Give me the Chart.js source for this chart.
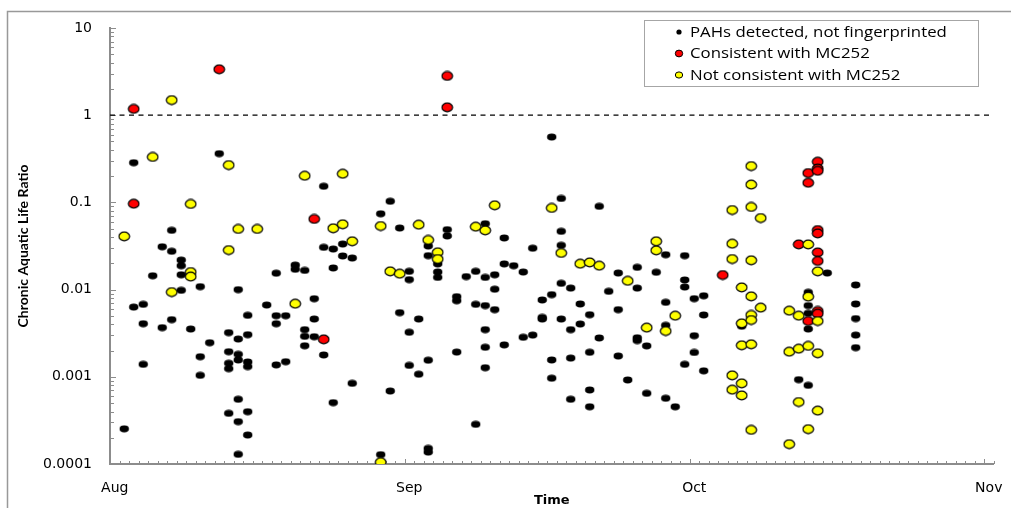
<!DOCTYPE html>
<html>
<head>
<meta charset="utf-8">
<script src="https://cdn.jsdelivr.net/npm/chart.js@4"></script>
<style>
  html, body { margin: 0; padding: 0; background: #fff; }
  #c { display: block; }
</style>
</head>
<body>
<canvas id="c" width="1011" height="508"></canvas>
<script>
// Axis categories and labels
const monthLabels = ['Aug', 'Sep', 'Oct', 'Nov'];
const monthStartDays = [0, 31, 61, 92];          // days after Aug 1
const yTickValues = [0.0001, 0.001, 0.01, 0.1, 1, 10];
const yTickLabels = ['0.0001', '0.001', '0.01', '0.1', '1', '10'];
const seriesNames = ['PAHs detected, not fingerprinted', 'Consistent with MC252', 'Not consistent with MC252'];
const thresholdRatio = 1;

// [days after Aug 1, chronic aquatic life ratio]
const pahSamples = [
  [1, 0.000253],
  [2, 0.285], [2, 0.0063],
  [3, 0.00678], [3, 0.00406], [3, 0.00139],
  [4, 0.0144],
  [5, 0.031], [5, 0.00366],
  [6, 0.0478], [6, 0.0275], [6, 0.00452],
  [7, 0.0218], [7, 0.0188], [7, 0.0148], [7, 0.0098],
  [8, 0.00353],
  [9, 0.0108], [9, 0.0017], [9, 0.00104],
  [10, 0.00246],
  [11, 0.362],
  [12, 0.00321], [12, 0.00194], [12, 0.00143], [12, 0.00124], [12, 0.000381],
  [13, 0.00998], [13, 0.00271], [13, 0.00181], [13, 0.00156], [13, 0.000552], [13, 0.000306], [13, 0.000129],
  [14, 0.00507], [14, 0.00304], [14, 0.00148], [14, 0.00131], [14, 0.000398], [14, 0.000215],
  [16, 0.00665],
  [17, 0.0154], [17, 0.00502], [17, 0.00406], [17, 0.00137],
  [18, 0.00502], [18, 0.00149],
  [19, 0.0191], [19, 0.0171],
  [20, 0.0166], [20, 0.00347], [20, 0.00291], [20, 0.00227],
  [21, 0.00786], [21, 0.0046], [21, 0.00288],
  [22, 0.153], [22, 0.0305], [22, 0.00178],
  [23, 0.0292], [23, 0.0177], [23, 0.000505],
  [24, 0.0333], [24, 0.0243],
  [25, 0.023], [25, 0.000841],
  [28, 0.0741], [28, 0.000128],
  [29, 0.103], [29, 0.000687],
  [30, 0.0508], [30, 0.00544],
  [31, 0.0162], [31, 0.013], [31, 0.00324], [31, 0.00135],
  [32, 0.0046], [32, 0.00107],
  [33, 0.0316], [33, 0.0245], [33, 0.00155], [33, 0.000151], [33, 0.000137],
  [34, 0.0197], [34, 0.0159], [34, 0.0138],
  [35, 0.0487], [35, 0.0412],
  [36, 0.0083], [36, 0.00746], [36, 0.00192],
  [37, 0.0141],
  [38, 0.0162], [38, 0.00678], [38, 0.000285],
  [39, 0.057], [39, 0.0138], [39, 0.00655], [39, 0.00347], [39, 0.00218], [39, 0.00127],
  [40, 0.0148], [40, 0.0101], [40, 0.00589],
  [41, 0.0391], [41, 0.0197], [41, 0.00232],
  [42, 0.0188],
  [43, 0.0159], [43, 0.00284],
  [44, 0.0298], [44, 0.00301],
  [45, 0.0076], [45, 0.0048], [45, 0.0046],
  [46, 0.562], [46, 0.00875], [46, 0.00156], [46, 0.000963],
  [47, 0.111], [47, 0.0466], [47, 0.0322], [47, 0.0118], [47, 0.0046],
  [48, 0.0104], [48, 0.00347], [48, 0.00164], [48, 0.000552],
  [49, 0.00684], [49, 0.00403],
  [50, 0.00515], [50, 0.00191], [50, 0.000706], [50, 0.000453],
  [51, 0.0901], [51, 0.00279],
  [52, 0.00955],
  [53, 0.0155], [53, 0.00589], [53, 0.00173],
  [54, 0.000919],
  [55, 0.018], [55, 0.0104], [55, 0.0028], [55, 0.0026],
  [56, 0.00226], [56, 0.000646],
  [57, 0.0158],
  [58, 0.0251], [58, 0.00714], [58, 0.00389], [58, 0.000567],
  [59, 0.000453],
  [60, 0.0245], [60, 0.0129], [60, 0.0107], [60, 0.00139],
  [61, 0.00787], [61, 0.00296], [61, 0.0019],
  [62, 0.0085], [62, 0.00512], [62, 0.00117],
  [66, 0.0038],
  [72, 0.000927],
  [73, 0.0093], [73, 0.00655], [73, 0.00534], [73, 0.00353], [73, 0.000798],
  [75, 0.0155],
  [78, 0.0113], [78, 0.00684], [78, 0.00465], [78, 0.00301], [78, 0.00216]
];

const mc252Samples = [
  [2, 1.18], [2, 0.0966],
  [11, 3.36],
  [21, 0.0646],
  [22, 0.00269],
  [35, 2.82], [35, 1.23],
  [64, 0.0147],
  [72, 0.033],
  [73, 0.217], [73, 0.168], [73, 0.00436],
  [74, 0.293], [74, 0.245], [74, 0.23], [74, 0.0482], [74, 0.0441], [74, 0.0267], [74, 0.0213], [74, 0.00569], [74, 0.0053]
];

const nonMc252Samples = [
  [1, 0.0408],
  [4, 0.332],
  [6, 1.49], [6, 0.00937],
  [8, 0.096], [8, 0.0159], [8, 0.0141],
  [12, 0.268], [12, 0.0284],
  [13, 0.0496],
  [15, 0.0496],
  [19, 0.00689],
  [20, 0.202],
  [23, 0.0505],
  [24, 0.213], [24, 0.0561],
  [25, 0.0358],
  [28, 0.0536], [28, 0.000105],
  [29, 0.0162],
  [30, 0.0152],
  [32, 0.0555],
  [33, 0.0371],
  [34, 0.0268], [34, 0.0224],
  [38, 0.0526],
  [39, 0.0478],
  [40, 0.0927],
  [46, 0.0863],
  [47, 0.0263],
  [49, 0.0198],
  [50, 0.0205],
  [51, 0.0188],
  [54, 0.0126],
  [56, 0.00366],
  [57, 0.0358], [57, 0.0282],
  [58, 0.00335],
  [59, 0.00502],
  [65, 0.0818], [65, 0.0336], [65, 0.0224], [65, 0.00104], [65, 0.000711],
  [66, 0.0106], [66, 0.0041], [66, 0.0023], [66, 0.000842], [66, 0.000612],
  [67, 0.261], [67, 0.16], [67, 0.0886], [67, 0.0217], [67, 0.00837], [67, 0.00512], [67, 0.00448], [67, 0.00236], [67, 0.000246],
  [68, 0.0662], [68, 0.00621],
  [71, 0.00573], [71, 0.00194], [71, 0.000169],
  [72, 0.00502], [72, 0.0021], [72, 0.000514],
  [73, 0.033], [73, 0.0083], [73, 0.00226], [73, 0.000251],
  [74, 0.0162], [74, 0.00436], [74, 0.00186], [74, 0.000409]
];

// Oval marker images
function ovalMarker(w, h, rx, ry, fill, stroke, lw) {
  const c = document.createElement('canvas');
  c.width = w; c.height = h;
  const g = c.getContext('2d');
  g.beginPath();
  g.ellipse(w / 2, h / 2, rx, ry, 0, 0, Math.PI * 2);
  g.fillStyle = fill;
  g.fill();
  if (stroke) { g.lineWidth = lw; g.strokeStyle = stroke; g.stroke(); }
  return c;
}
const blackDot = ovalMarker(11, 8, 4.7, 3.4, '#000000');
const redDot = ovalMarker(13, 11, 5.3, 4.3, '#ff0000', '#000000', 1.2);
const yellowDot = ovalMarker(13, 11, 5.3, 4.3, '#ffff00', '#000000', 1.2);

const toPoints = rows => rows.map(([d, r]) => ({ x: d, y: r }));
const AXIS_GREY = '#8c8c8c';

// Frame, inward tick marks and the legend box
const decorations = {
  id: 'decorations',
  beforeDraw(chart) {
    const ctx = chart.ctx;
    ctx.save();
    ctx.fillStyle = '#ffffff';
    ctx.fillRect(0, 0, chart.width, chart.height);
    ctx.strokeStyle = '#999999';
    ctx.lineWidth = 1.5;
    ctx.beginPath();
    ctx.moveTo(7.5, chart.height + 2);
    ctx.lineTo(7.5, 11.5);
    ctx.lineTo(chart.width + 2, 11.5);
    ctx.stroke();
    ctx.restore();
  },
  beforeDatasetsDraw(chart) {
    const ctx = chart.ctx;
    const xs = chart.scales.x, ys = chart.scales.y;
    const area = chart.chartArea;
    ctx.save();
    ctx.strokeStyle = AXIS_GREY;
    ctx.lineWidth = 1;
    ctx.beginPath();
    // day ticks along the time axis, longer at month boundaries
    for (let k = 0; k <= 93; k++) {
      const v = k - 0.5;
      const px = Math.round(xs.getPixelForValue(v)) + 0.5;
      const major = monthStartDays.includes(k);
      const len = major ? 5 : 3;
      ctx.moveTo(px, area.bottom);
      ctx.lineTo(px, area.bottom - len);
    }
    // log ticks on the ratio axis
    for (let e = -4; e <= 1; e++) {
      for (let m = 1; m <= 9; m++) {
        const v = m * Math.pow(10, e);
        if (v > 10.0001) break;
        const py = Math.round(ys.getPixelForValue(v)) + 0.5;
        const len = m === 1 ? 6 : 4;
        ctx.moveTo(area.left, py);
        ctx.lineTo(area.left + len, py);
      }
    }
    ctx.stroke();
    ctx.restore();
  },
  afterDraw(chart) {
    const ctx = chart.ctx;
    ctx.save();
    ctx.strokeStyle = '#a6a6a6';
    ctx.lineWidth = 1;
    ctx.strokeRect(644.5, 20.5, 334, 66);
    const rows = [32, 53.5, 75];
    const styles = [
      { rx: 2.6, ry: 2.6, fill: '#000000', stroke: null },
      { rx: 3.7, ry: 3.4, fill: '#ff0000', stroke: '#000000' },
      { rx: 3.7, ry: 3.1, fill: '#ffff00', stroke: '#000000' }
    ];
    seriesNames.forEach((name, i) => {
      const s = styles[i];
      ctx.beginPath();
      ctx.ellipse(679, rows[i], s.rx, s.ry, 0, 0, Math.PI * 2);
      ctx.fillStyle = s.fill;
      ctx.fill();
      if (s.stroke) { ctx.lineWidth = 1; ctx.strokeStyle = s.stroke; ctx.stroke(); }
      // legend text, slightly widened
      ctx.save();
      ctx.translate(690, rows[i] + 1);
      ctx.scale(1.2, 1);
      ctx.font = '14px "Open Sans"';
      ctx.textBaseline = 'middle';
      ctx.textAlign = 'left';
      ctx.fillStyle = '#000000';
      ctx.fillText(name, 0, 0);
      ctx.restore();
    });
    ctx.restore();
  }
};

new Chart(document.getElementById('c'), {
  type: 'scatter',
  data: {
    datasets: [
      {
        label: seriesNames[0],
        data: toPoints(pahSamples),
        pointStyle: blackDot,
        order: 3
      },
      {
        label: seriesNames[1],
        data: toPoints(mc252Samples),
        pointStyle: redDot,
        order: 2
      },
      {
        label: seriesNames[2],
        data: toPoints(nonMc252Samples),
        pointStyle: yellowDot,
        order: 1
      },
      {
        type: 'line',
        label: 'threshold',
        data: [{ x: -0.5, y: thresholdRatio }, { x: 92.5, y: thresholdRatio }],
        borderColor: '#000000',
        borderWidth: 1.3,
        borderDash: [5, 4.5],
        pointRadius: 0,
        showLine: true,
        fill: false,
        order: 4
      }
    ]
  },
  options: {
    responsive: false,
    animation: false,
    events: [],
    layout: { padding: { left: 0, top: 28, right: 17.5, bottom: 0 } },
    plugins: {
      legend: { display: false },
      tooltip: { enabled: false }
    },
    scales: {
      x: {
        type: 'linear',
        position: 'bottom',
        min: -0.5,
        max: 92.5,
        afterBuildTicks: s => { s.ticks = monthStartDays.map(v => ({ value: v })); },
        afterFit: s => { s.height = 44; s.paddingLeft = 0; s.paddingRight = 0; },
        ticks: {
          autoSkip: false,
          maxRotation: 0,
          padding: 16,
          color: '#000000',
          font: { family: 'DejaVu Sans', size: 14 },
          callback: (v, i) => monthLabels[i]
        },
        grid: { display: false, drawTicks: false },
        border: { display: true, color: AXIS_GREY, width: 2 },
        title: {
          display: true,
          text: 'Time',
          color: '#000000',
          font: { family: 'DejaVu Sans', size: 13, weight: 'bold' },
          padding: { top: 0, bottom: 0 }
        }
      },
      y: {
        type: 'logarithmic',
        position: 'left',
        min: 0.0001,
        max: 10,
        afterBuildTicks: s => { s.ticks = yTickValues.map(v => ({ value: v, major: true })); },
        afterFit: s => { s.width = 110; s.paddingTop = 0; s.paddingBottom = 0; },
        ticks: {
          autoSkip: false,
          padding: 18,
          color: '#000000',
          font: { family: 'DejaVu Sans', size: 14 },
          callback: (v, i) => yTickLabels[i]
        },
        grid: { display: false, drawTicks: false },
        border: { display: true, color: AXIS_GREY, width: 2 },
        title: {
          display: true,
          text: 'Chronic Aquatic Life Ratio',
          color: '#000000',
          font: { family: 'Lato', size: 14, weight: 'bold' },
          padding: { top: 15, bottom: 0 }
        }
      }
    }
  },
  plugins: [decorations]
});
</script>
</body>
</html>
